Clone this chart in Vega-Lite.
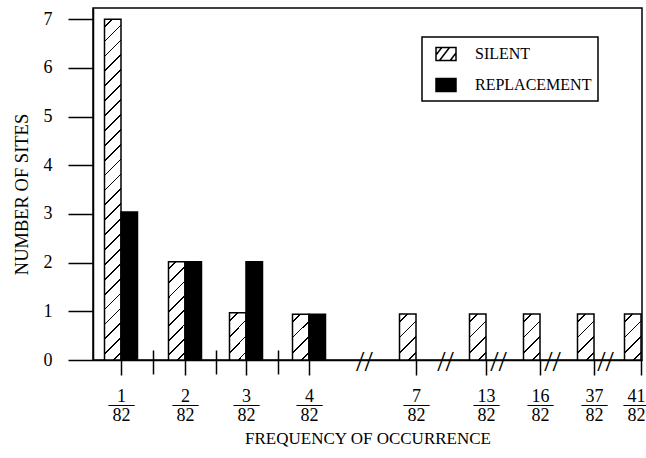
{
  "$schema": "https://vega.github.io/schema/vega-lite/v6.json",
  "width": 549,
  "height": 352,
  "autosize": {"type": "none"},
  "padding": {"left": 93, "top": 8, "right": 4, "bottom": 98},
  "background": "white",
  "config": {
    "font": "Liberation Serif",
    "view": {"stroke": "black", "strokeWidth": 1.5},
    "axis": {
      "domainColor": "black", "tickColor": "black", "labelColor": "black", "titleColor": "black",
      "domainWidth": 1.5, "tickWidth": 1.5, "labelFont": "Liberation Serif", "titleFont": "Liberation Serif",
      "titleFontWeight": "normal", "grid": false
    },
    "legend": {"labelFont": "Liberation Serif", "labelColor": "black"}
  },
  "data": {
    "values": [
      {"freq": 1, "type": "SILENT", "count": 7},
      {"freq": 2, "type": "SILENT", "count": 2.02},
      {"freq": 3, "type": "SILENT", "count": 0.97},
      {"freq": 4, "type": "SILENT", "count": 0.94},
      {"freq": 7, "type": "SILENT", "count": 0.945},
      {"freq": 13, "type": "SILENT", "count": 0.945},
      {"freq": 16, "type": "SILENT", "count": 0.945},
      {"freq": 37, "type": "SILENT", "count": 0.945},
      {"freq": 41, "type": "SILENT", "count": 0.945},
      {"freq": 1, "type": "REPLACEMENT", "count": 3.04},
      {"freq": 2, "type": "REPLACEMENT", "count": 2.02},
      {"freq": 3, "type": "REPLACEMENT", "count": 2.02},
      {"freq": 4, "type": "REPLACEMENT", "count": 0.94}
    ]
  },
  "encoding": {
    "y": {
      "field": "count", "type": "quantitative",
      "scale": {"domain": [0, 7.23], "nice": false, "zero": true},
      "axis": {
        "values": [0, 1, 2, 3, 4, 5, 6, 7], "tickSize": 25, "labelPadding": 16,
        "labelFontSize": 18, "title": "NUMBER OF SITES", "titleFontSize": 18.5, "titlePadding": 12, "titleY": 186
      }
    }
  },
  "layer": [
    {
      "transform": [{"filter": "datum.type === 'SILENT'"}],
      "mark": {"type": "bar", "orient": "vertical", "width": 16.5, "xOffset": -8.25, "stroke": "black", "strokeWidth": 1.5},
      "encoding": {
        "x": {
          "field": "freq", "type": "quantitative",
          "scale": {"domain": [0.5625, 1, 2, 3, 4, 7, 13, 16, 37, 41, 41.085], "range": [0, 28, 92, 153, 216, 323, 393, 447, 501, 548, 549], "nice": false, "zero": false},
          "axis": {
            "orient": "bottom",
            "values": [1, 2, 3, 4, 7, 13, 16, 37, 41], "format": "d",
            "tickSize": 15, "labelExpr": "[datum.label, '82']", "labelFontSize": 18, "labelLineHeight": 19,
            "labelPadding": 12.8, "labelOverlap": false, "labelFlush": false, "labelBound": false,
            "labelOffset": {"condition": {"test": "datum.value === 41", "value": -5}, "value": 0},
            "title": "FREQUENCY OF OCCURRENCE", "titleFontSize": 17, "titlePadding": 6
          }
        },
        "fill": {
          "condition": [
            {"test": "datum.count > 5", "value": {"gradient": "linear", "x1": 0, "y1": 0, "x2": 0.0506, "y2": 1.046, "stops": [
              {"offset": 0.0183, "color": "#fff"}, {"offset": 0.0183, "color": "#000"}, {"offset": 0.0233, "color": "#000"}, {"offset": 0.0233, "color": "#fff"},
              {"offset": 0.06, "color": "#fff"}, {"offset": 0.06, "color": "#000"}, {"offset": 0.065, "color": "#000"}, {"offset": 0.065, "color": "#fff"},
              {"offset": 0.1017, "color": "#fff"}, {"offset": 0.1017, "color": "#000"}, {"offset": 0.1067, "color": "#000"}, {"offset": 0.1067, "color": "#fff"},
              {"offset": 0.1433, "color": "#fff"}, {"offset": 0.1433, "color": "#000"}, {"offset": 0.1483, "color": "#000"}, {"offset": 0.1483, "color": "#fff"},
              {"offset": 0.185, "color": "#fff"}, {"offset": 0.185, "color": "#000"}, {"offset": 0.19, "color": "#000"}, {"offset": 0.19, "color": "#fff"},
              {"offset": 0.2267, "color": "#fff"}, {"offset": 0.2267, "color": "#000"}, {"offset": 0.2317, "color": "#000"}, {"offset": 0.2317, "color": "#fff"},
              {"offset": 0.2683, "color": "#fff"}, {"offset": 0.2683, "color": "#000"}, {"offset": 0.2733, "color": "#000"}, {"offset": 0.2733, "color": "#fff"},
              {"offset": 0.31, "color": "#fff"}, {"offset": 0.31, "color": "#000"}, {"offset": 0.315, "color": "#000"}, {"offset": 0.315, "color": "#fff"},
              {"offset": 0.3517, "color": "#fff"}, {"offset": 0.3517, "color": "#000"}, {"offset": 0.3567, "color": "#000"}, {"offset": 0.3567, "color": "#fff"},
              {"offset": 0.3933, "color": "#fff"}, {"offset": 0.3933, "color": "#000"}, {"offset": 0.3983, "color": "#000"}, {"offset": 0.3983, "color": "#fff"},
              {"offset": 0.435, "color": "#fff"}, {"offset": 0.435, "color": "#000"}, {"offset": 0.44, "color": "#000"}, {"offset": 0.44, "color": "#fff"},
              {"offset": 0.4767, "color": "#fff"}, {"offset": 0.4767, "color": "#000"}, {"offset": 0.4817, "color": "#000"}, {"offset": 0.4817, "color": "#fff"},
              {"offset": 0.5183, "color": "#fff"}, {"offset": 0.5183, "color": "#000"}, {"offset": 0.5233, "color": "#000"}, {"offset": 0.5233, "color": "#fff"},
              {"offset": 0.56, "color": "#fff"}, {"offset": 0.56, "color": "#000"}, {"offset": 0.565, "color": "#000"}, {"offset": 0.565, "color": "#fff"},
              {"offset": 0.6017, "color": "#fff"}, {"offset": 0.6017, "color": "#000"}, {"offset": 0.6067, "color": "#000"}, {"offset": 0.6067, "color": "#fff"},
              {"offset": 0.6433, "color": "#fff"}, {"offset": 0.6433, "color": "#000"}, {"offset": 0.6483, "color": "#000"}, {"offset": 0.6483, "color": "#fff"},
              {"offset": 0.685, "color": "#fff"}, {"offset": 0.685, "color": "#000"}, {"offset": 0.69, "color": "#000"}, {"offset": 0.69, "color": "#fff"},
              {"offset": 0.7267, "color": "#fff"}, {"offset": 0.7267, "color": "#000"}, {"offset": 0.7317, "color": "#000"}, {"offset": 0.7317, "color": "#fff"},
              {"offset": 0.7683, "color": "#fff"}, {"offset": 0.7683, "color": "#000"}, {"offset": 0.7733, "color": "#000"}, {"offset": 0.7733, "color": "#fff"},
              {"offset": 0.81, "color": "#fff"}, {"offset": 0.81, "color": "#000"}, {"offset": 0.815, "color": "#000"}, {"offset": 0.815, "color": "#fff"},
              {"offset": 0.8517, "color": "#fff"}, {"offset": 0.8517, "color": "#000"}, {"offset": 0.8567, "color": "#000"}, {"offset": 0.8567, "color": "#fff"},
              {"offset": 0.8933, "color": "#fff"}, {"offset": 0.8933, "color": "#000"}, {"offset": 0.8983, "color": "#000"}, {"offset": 0.8983, "color": "#fff"},
              {"offset": 0.935, "color": "#fff"}, {"offset": 0.935, "color": "#000"}, {"offset": 0.94, "color": "#000"}, {"offset": 0.94, "color": "#fff"},
              {"offset": 0.9767, "color": "#fff"}, {"offset": 0.9767, "color": "#000"}, {"offset": 0.9817, "color": "#000"}, {"offset": 0.9817, "color": "#fff"}
            ]}},
            {"test": "datum.count > 1.5", "value": {"gradient": "linear", "x1": 0, "y1": 0, "x2": 0.1926, "y2": 1.1368, "stops": [
              {"offset": 0.0545, "color": "#fff"}, {"offset": 0.0545, "color": "#000"}, {"offset": 0.0705, "color": "#000"}, {"offset": 0.0705, "color": "#fff"},
              {"offset": 0.1795, "color": "#fff"}, {"offset": 0.1795, "color": "#000"}, {"offset": 0.1955, "color": "#000"}, {"offset": 0.1955, "color": "#fff"},
              {"offset": 0.3045, "color": "#fff"}, {"offset": 0.3045, "color": "#000"}, {"offset": 0.3205, "color": "#000"}, {"offset": 0.3205, "color": "#fff"},
              {"offset": 0.4295, "color": "#fff"}, {"offset": 0.4295, "color": "#000"}, {"offset": 0.4455, "color": "#000"}, {"offset": 0.4455, "color": "#fff"},
              {"offset": 0.5545, "color": "#fff"}, {"offset": 0.5545, "color": "#000"}, {"offset": 0.5705, "color": "#000"}, {"offset": 0.5705, "color": "#fff"},
              {"offset": 0.6795, "color": "#fff"}, {"offset": 0.6795, "color": "#000"}, {"offset": 0.6955, "color": "#000"}, {"offset": 0.6955, "color": "#fff"},
              {"offset": 0.8045, "color": "#fff"}, {"offset": 0.8045, "color": "#000"}, {"offset": 0.8205, "color": "#000"}, {"offset": 0.8205, "color": "#fff"},
              {"offset": 0.9295, "color": "#fff"}, {"offset": 0.9295, "color": "#000"}, {"offset": 0.9455, "color": "#000"}, {"offset": 0.9455, "color": "#fff"}
            ]}}
          ],
          "value": {"gradient": "linear", "x1": 0, "y1": 0, "x2": 0.4294, "y2": 1.2036, "stops": [
            {"offset": 0.111, "color": "#fff"}, {"offset": 0.111, "color": "#000"}, {"offset": 0.139, "color": "#000"}, {"offset": 0.139, "color": "#fff"},
            {"offset": 0.361, "color": "#fff"}, {"offset": 0.361, "color": "#000"}, {"offset": 0.389, "color": "#000"}, {"offset": 0.389, "color": "#fff"},
            {"offset": 0.611, "color": "#fff"}, {"offset": 0.611, "color": "#000"}, {"offset": 0.639, "color": "#000"}, {"offset": 0.639, "color": "#fff"},
            {"offset": 0.861, "color": "#fff"}, {"offset": 0.861, "color": "#000"}, {"offset": 0.889, "color": "#000"}, {"offset": 0.889, "color": "#fff"}
          ]}
        }
      }
    },
    {
      "transform": [{"filter": "datum.type === 'REPLACEMENT'"}],
      "mark": {"type": "bar", "orient": "vertical", "width": 16.5, "xOffset": 8.25, "stroke": "black", "strokeWidth": 1.5},
      "encoding": {
        "x": {
          "field": "freq", "type": "quantitative",
          "scale": {"domain": [0.5625, 1, 2, 3, 4, 7, 13, 16, 37, 41, 41.085], "range": [0, 28, 92, 153, 216, 323, 393, 447, 501, 548, 549], "nice": false, "zero": false},
          "axis": {
            "orient": "bottom", "offset": -10,
            "values": [1, 2, 3, 4, 7, 13, 16, 37, 41, 1.5, 2.5, 3.5, 5.54, 9.49, 13.67, 20.67, 37.94],
            "domain": false, "tickSize": 24,
            "tickOpacity": {"condition": {"test": "datum.value < 4 && datum.value % 1 !== 0", "value": 1}, "value": 0},
            "labelExpr": "datum.value % 1 === 0 ? ['\u00a0', '——'] : (datum.value < 4 ? '' : '//')",
            "labelBaseline": {"condition": {"test": "datum.value % 1 === 0", "value": "top"}, "value": "middle"},
            "labelFontSize": {"condition": {"test": "datum.value % 1 === 0", "value": 13}, "value": 30},
            "labelFontWeight": {"condition": {"test": "datum.value % 1 === 0", "value": "bold"}, "value": "normal"},
            "labelOffset": {"condition": {"test": "datum.value === 41", "value": -5}, "value": 0},
            "labelLineHeight": 36.5,
            "labelPadding": -13,
            "labelOverlap": false, "labelFlush": false, "labelBound": false, "title": null
          }
        },
        "fill": {
          "field": "type", "type": "nominal",
          "scale": {"domain": ["SILENT", "REPLACEMENT"], "range": ["white", "black"]},
          "legend": {
            "orient": "none", "legendX": 329, "legendY": 29, "title": null, "direction": "vertical",
            "padding": 6, "strokeColor": "black", "fillColor": "white",
            "symbolSize": 400, "symbolStrokeColor": "black", "symbolStrokeWidth": 1.5, "symbolOffset": 7,
            "labelFontSize": 16, "labelOffset": 18, "rowPadding": 10,
            "encode": {
              "symbols": {"update": {"shape": {"signal": "datum.value === 'SILENT' ? 'M-1,-0.65H1V0.65H-1Z M-0.65,0.65L0.35,-0.65 M-1,0.1L-0.42,-0.65 M0.42,0.65L1,-0.1' : 'M-1,-0.65H1V0.65H-1Z'"}}},
              "legend": {"update": {"strokeWidth": {"value": 1.5}}}
            }
          }
        }
      }
    }
  ],
  "resolve": {"axis": {"x": "independent"}}
}
